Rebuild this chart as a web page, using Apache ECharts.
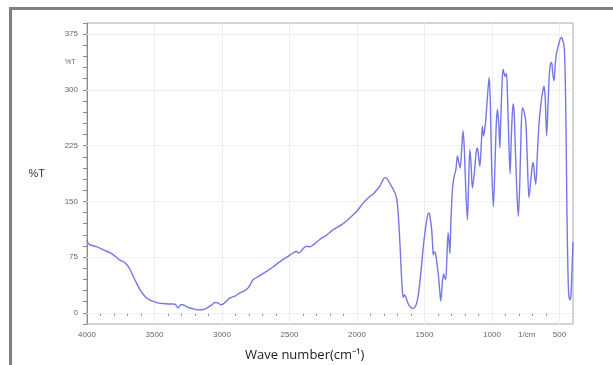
<!DOCTYPE html>
<html>
<head>
<meta charset="utf-8">
<script src="https://cdn.jsdelivr.net/npm/echarts@6/dist/echarts.min.js"></script>
<style>
  html, body { margin: 0; padding: 0; background: #fff; }
  #spectrum { width: 613px; height: 365px; }
</style>
</head>
<body>
<div id="spectrum"></div>
<script>
// wave number (cm-1)
var waveNumber = [
  4000, 3990, 3970, 3930, 3904, 3870, 3830, 3790, 3756, 3730, 3706, 3680, 3657, 3630, 3607, 3580,
  3550, 3520, 3480, 3440, 3400, 3363, 3345, 3326, 3305, 3291, 3260, 3237, 3205, 3175, 3140, 3113,
  3080, 3052, 3030, 3010, 2990, 2960, 2941, 2900, 2867, 2830, 2805, 2785, 2768, 2720, 2669, 2620,
  2570, 2510, 2470, 2447, 2432, 2415, 2390, 2372, 2350, 2335, 2300, 2274, 2230, 2175, 2110, 2052,
  2000, 1953, 1904, 1879, 1850, 1830, 1810, 1795, 1780, 1765, 1750, 1731, 1712, 1700, 1690, 1681,
  1672, 1665, 1657, 1648, 1640, 1632, 1620, 1607, 1595, 1583, 1570, 1558, 1545, 1533, 1520, 1509,
  1495, 1484, 1472, 1465, 1455, 1447, 1440, 1435, 1428, 1420, 1410, 1398, 1388, 1380, 1372, 1366,
  1358, 1350, 1343, 1335, 1325, 1318, 1312, 1305, 1298, 1290, 1280, 1268, 1256, 1246, 1236, 1225,
  1214, 1204, 1194, 1182, 1173, 1164, 1155, 1145, 1130, 1118, 1108, 1098, 1090, 1080, 1071, 1063,
  1055, 1046, 1034, 1021, 1012, 1003, 990, 978, 968, 960, 950, 942, 935, 925, 918, 910,
  903, 893, 885, 875, 866, 856, 844, 836, 826, 815, 805, 795, 785, 775, 765, 750,
  740, 726, 712, 700, 694, 685, 676, 665, 652, 635, 620, 615, 606, 595, 585, 575,
  566, 558, 550, 541, 531, 521, 505, 495, 484, 475, 465, 458, 452, 445, 438, 432,
  428, 422, 416, 410, 405, 400
];
// %T values at those wave numbers
var transmittance = [
  98, 93, 91, 89, 87, 84, 81, 76, 71, 69, 65, 58, 49, 39, 31, 24,
  19, 16, 13.5, 12.5, 12, 12, 11.5, 6.5, 11, 11, 8, 6.5, 5, 4, 4.5, 6.5,
  10, 14, 13.5, 11, 12, 17, 20, 23, 27, 30, 34, 40, 45, 50, 56, 62,
  69, 76, 81, 82.5, 80.5, 83, 88, 89.5, 89, 90, 95, 99, 104, 112, 119, 128,
  137, 148, 157, 160, 166, 171, 178, 182, 181, 177, 172, 166, 158, 145, 120, 90,
  55, 33, 21, 24, 22, 18, 12, 8.5, 6.5, 6, 8, 13, 25, 44, 67, 89,
  110, 124, 134, 134, 124, 112, 92, 78, 82, 81, 70, 52, 32, 16, 30, 45,
  52, 47, 45, 70, 108, 95, 80, 120, 150, 172, 184, 192, 211, 202, 195, 220,
  245, 215, 165, 125, 175, 220, 200, 168, 190, 215, 222, 208, 197, 225, 251, 238,
  245, 260, 290, 317, 280, 200, 143, 200, 255, 274, 255, 222, 260, 310, 328, 322,
  318, 322, 290, 230, 187, 240, 281, 270, 215, 160, 130, 170, 240, 276, 272, 258,
  215, 155, 180, 200, 202, 185, 173, 210, 254, 285, 302, 305, 290, 238, 280, 322,
  335, 337, 322, 312, 335, 350, 362, 368, 371, 366, 357, 320, 254, 137, 60, 25,
  20, 17.5, 22, 45, 70, 95
];
var yLabelValues = [0, 75, 150, 225, 300, 375];
var xLabelValues = [500, 1000, 1500, 2000, 2500, 3000, 3500, 4000];

var spectrumChart = echarts.init(document.getElementById("spectrum"));

var points = waveNumber.map(function (w, i) {
  return [w, transmittance[i]];
});
var gridLines = yLabelValues.map(function (v) {
  return { yAxis: v };
}).concat(xLabelValues.slice(0, 7).map(function (v) {
  return { xAxis: v };
}));

var option = {
  animation: false,
  backgroundColor: "#fff",
  textStyle: { fontFamily: "Liberation Sans" },
  grid: {
    left: 87,
    right: 40,
    top: 23,
    bottom: 41,
    show: true,
    borderColor: "#a8a8a8",
    borderWidth: 1
  },
  xAxis: {
    type: "value",
    inverse: true,
    min: 400,
    max: 4000,
    interval: 100,
    axisLine: { lineStyle: { color: "#8a8a8a", width: 1 } },
    axisTick: { show: true, inside: false, length: 3, lineStyle: { color: "#8a8a8a" } },
    axisLabel: {
      fontSize: 8,
      color: "#666",
      margin: 7,
      showMinLabel: false,
      formatter: function (v) {
        return v % 500 === 0 ? String(v) : "";
      }
    },
    splitLine: { show: false }
  },
  yAxis: {
    type: "value",
    min: -15,
    max: 390,
    interval: 15,
    name: "%T",
    nameLocation: "middle",
    nameRotate: 0,
    nameGap: 42,
    nameTextStyle: { fontSize: 11, color: "#333" },
    axisLine: { show: true, lineStyle: { color: "#8a8a8a", width: 1 } },
    axisTick: { show: true, inside: false, length: 4, lineStyle: { color: "#8a8a8a" } },
    axisLabel: {
      fontSize: 8,
      color: "#666",
      margin: 9,
      formatter: function (v) {
        return v >= 0 && v % 75 === 0 ? String(v) : "";
      }
    },
    splitLine: { show: false }
  },
  graphic: [
    {
      type: "rect",
      silent: true,
      shape: { x: 10.5, y: 8.5, width: 700, height: 500 },
      style: { fill: "none", stroke: "#808080", lineWidth: 3 }
    },
    {
      type: "text",
      left: 65,
      top: 59,
      silent: true,
      style: { text: "%T", fontSize: 7, fill: "#666", fontFamily: "Liberation Sans" }
    },
    {
      type: "text",
      left: 518,
      top: 331,
      silent: true,
      style: { text: "1/cm", fontSize: 8, fill: "#666", fontFamily: "Liberation Sans" }
    },
    {
      type: "text",
      left: 245,
      top: 349,
      silent: true,
      style: { text: "Wave number(cm⁻¹)", fontSize: 13, fill: "#222", fontFamily: "Open Sans" }
    }
  ],
  series: [
    {
      name: "%T",
      type: "line",
      data: points,
      z: 3,
      symbol: "none",
      smooth: 0.3,
      lineStyle: { color: "#7676e8", width: 1.4 },
      markLine: {
        silent: true,
        z: 1,
        symbol: "none",
        label: { show: false },
        lineStyle: { type: "solid", color: "#efefef", width: 1 },
        data: gridLines
      }
    }
  ]
};
spectrumChart.setOption(option);
</script>
</body>
</html>
